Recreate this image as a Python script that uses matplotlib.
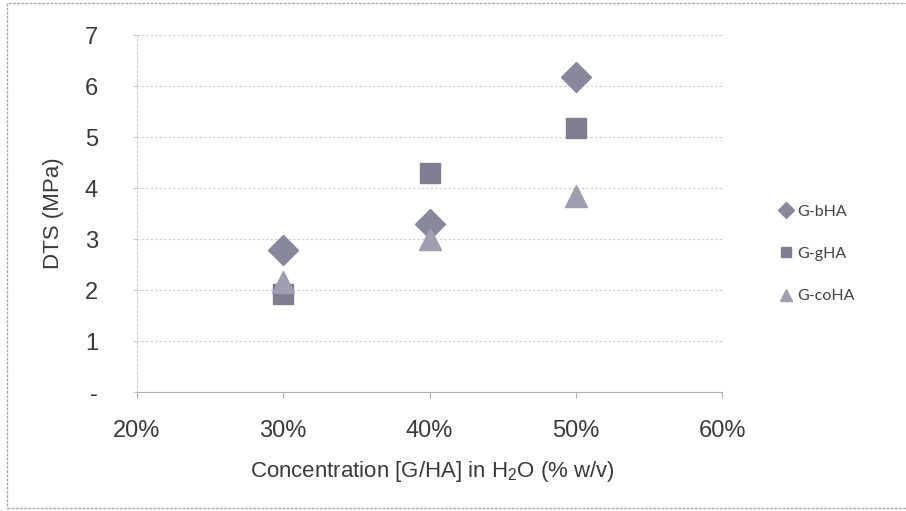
import matplotlib
matplotlib.use("agg")
import matplotlib.pyplot as plt
from matplotlib.patches import Rectangle
from matplotlib.ticker import FuncFormatter

plt.rcParams["font.family"] = ["Liberation Sans", "DejaVu Sans"]
plt.rcParams["mathtext.default"] = "regular"

# concentration of G/HA in water (fraction, shown as %)
concentrations = [0.30, 0.40, 0.50]
series_names = ["G-bHA", "G-gHA", "G-coHA"]
dts_bha = [2.78, 3.30, 6.18]
dts_gha = [1.92, 4.30, 5.17]
dts_coha = [2.15, 3.00, 3.85]
x_ticks = [0.2, 0.3, 0.4, 0.5, 0.6]
y_ticks = [0, 1, 2, 3, 4, 5, 6, 7]

fig = plt.figure(figsize=(9.06, 5.11), dpi=100)
fig.patch.set_facecolor("white")

# outer chart border
fig.add_artist(Rectangle((7 / 906, 3 / 511), 1.0, 505 / 511, transform=fig.transFigure,
                         fill=False, edgecolor="#a8a8a8", linewidth=1.0, linestyle=(0, (2, 1))))

ax = fig.add_axes([137 / 906, 119 / 511, 585 / 906, 357 / 511])

styles = [
    ("D", 15, "#87889c"),
    ("s", 14, "#7f7d90"),
    ("^", 16, "#9d9eaf"),
]
for name, values, (mk, ms, col) in zip(series_names, [dts_bha, dts_gha, dts_coha], styles):
    ax.plot(concentrations, values, linestyle="none", marker=mk, markersize=ms,
            markerfacecolor=col, markeredgecolor=col, label=name, zorder=3)

ax.set_xlim(0.2, 0.6)
ax.set_ylim(0, 7)
ax.set_xticks(x_ticks)
ax.set_yticks(y_ticks)
ax.xaxis.set_major_formatter(FuncFormatter(lambda v, p: f"{round(v * 100)}%"))
ax.yaxis.set_major_formatter(FuncFormatter(lambda v, p: "-" if v == 0 else f"{int(v)}"))

ax.grid(axis="y", color="#cccccc", linewidth=0.8, linestyle=(0, (2, 2)))
for s in ["top", "right"]:
    ax.spines[s].set_visible(False)
ax.spines["left"].set_color("#cccccc")
ax.spines["left"].set_linestyle((0, (2, 2)))
ax.spines["bottom"].set_color("#b0b0b0")
ax.tick_params(axis="y", length=3, color="#cccccc", pad=25, labelsize=17, labelcolor="#3a3a3a")
ax.tick_params(axis="x", length=4, color="#b0b0b0", pad=16, labelsize=17, labelcolor="#3a3a3a")

fig.text(53 / 906, 1 - 213 / 511, "DTS (MPa)", rotation=90, ha="center", va="center",
         fontsize=16, color="#3a3a3a")
fig.text(432 / 906, 1 - 471 / 511, "Concentration [G/HA] in H$_2$O (% w/v)", ha="center",
         va="center", fontsize=16, color="#3a3a3a")

fig.legend(loc="center left", bbox_to_anchor=(765 / 906, 1 - 254 / 511), frameon=False,
           prop={"family": "Lato", "size": 11.5}, markerscale=0.55, handlelength=0.8,
           handletextpad=0.3, labelspacing=1.75, labelcolor="#444444")

fig.savefig("out.png", dpi=100, facecolor="white")
